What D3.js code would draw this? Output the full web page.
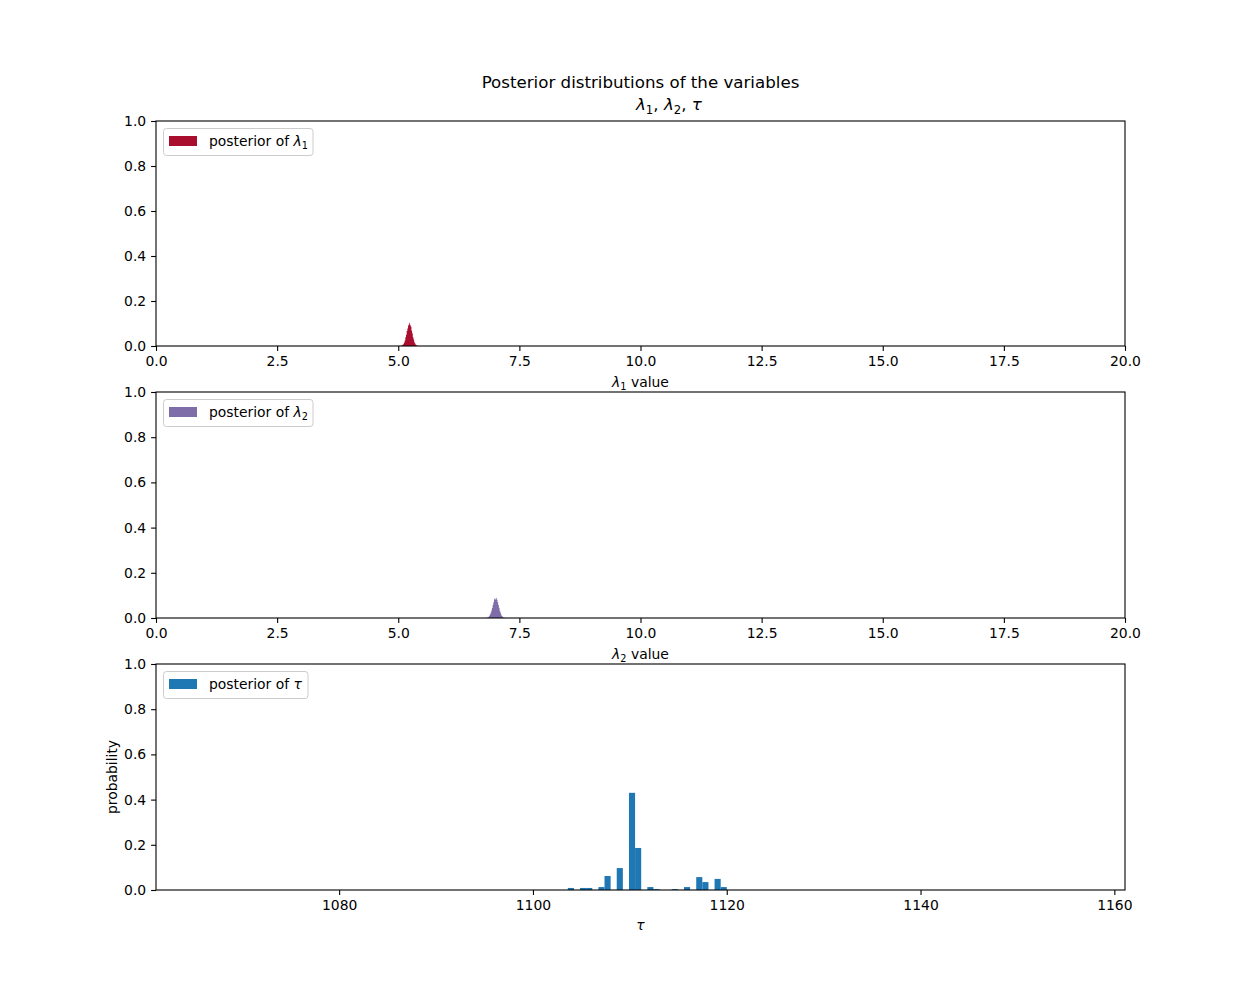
<!DOCTYPE html>
<html>
<head>
<meta charset="utf-8">
<script src="https://cdn.jsdelivr.net/npm/d3@7"></script>
<style>
  body { margin: 0; background: #fff; }
  svg { font-family: "DejaVu Sans", sans-serif; }
</style>
</head>
<body>
<svg id="chart" width="1250" height="1000"></svg>
<script>
// ---------------- data ----------------
const lambdaTicks = [0, 2.5, 5, 7.5, 10, 12.5, 15, 17.5, 20];
const yTicks = [0, 0.2, 0.4, 0.6, 0.8, 1.0];
const tauTicks = [1080, 1100, 1120, 1140, 1160];

const lambda1Range = [5.02, 5.44];   // 30 bins
const lambda1Probs = [0.0002,0.0004,0.0008,0.0016,0.0031,0.0052,0.0098,0.0158,0.0249,0.0385,
                      0.0502,0.0671,0.0779,0.0912,0.0951,0.1032,0.0918,0.0861,0.0683,0.0561,
                      0.0390,0.0286,0.0171,0.0112,0.0058,0.0034,0.0015,0.0008,0.0003,0.0001];

const lambda2Range = [6.79, 7.22];   // 30 bins
const lambda2Probs = [0.0002,0.0005,0.0009,0.0018,0.0034,0.0058,0.0101,0.0152,0.0228,0.0330,
                      0.0445,0.0580,0.0701,0.0826,0.0872,0.0805,0.0880,0.0812,0.0698,0.0571,
                      0.0452,0.0322,0.0231,0.0148,0.0091,0.0052,0.0027,0.0013,0.0006,0.0002];

const tauBinStart = 1103.6;
const tauBinWidth = 0.631;
const tauProbs = [0.009,0,0.009,0.009,0,0.013,0.062,0,0.097,0,
                  0.43,0.186,0,0.013,0.004,0,0,0.004,0,0.013,
                  0,0.057,0.035,0,0.049,0.013];
const tauDomain = [1061.1, 1161.1];

const colors = { l1: "#A60628", l2: "#7A68A6", tau: "#1f77b4" };

// ---------------- layout ----------------
const svg = d3.select("#chart");
const left = 156, right = 1125;
const panels = [
  { top: 121, bottom: 346 },
  { top: 392, bottom: 618 },
  { top: 664, bottom: 890 }
];
const FS = 13.9;

function mathLabel(g, parts, x, y, anchor, size) {
  const t = g.append("text").attr("x", x).attr("y", y).attr("text-anchor", anchor)
    .attr("font-size", size).attr("fill", "#000");
  let shifted = false;
  parts.forEach(p => {
    const ts = t.append("tspan").text(p.t);
    if (p.it) ts.attr("font-style", "italic");
    if (p.sub) {
      ts.attr("font-size", size * 0.7).attr("dy", size * 0.22);
      shifted = true;
    } else if (shifted) {
      ts.attr("dy", -size * 0.22);
      shifted = false;
    }
  });
  return t;
}

function drawFrame(g, p, x, y, ticks, fmt) {
  const xa = d3.axisBottom(x).tickValues(ticks).tickFormat(fmt).tickSizeOuter(0).tickSize(4.9).tickPadding(4.9);
  const ya = d3.axisLeft(y).tickValues(yTicks).tickFormat(d3.format(".1f")).tickSizeOuter(0).tickSize(4.9).tickPadding(4.9);
  const gx = g.append("g").attr("transform", `translate(0,${p.bottom})`).call(xa);
  const gy = g.append("g").attr("transform", `translate(${left},0)`).call(ya);
  [gx, gy].forEach(a => {
    a.select(".domain").remove();
    a.selectAll("line").attr("stroke", "#000").attr("stroke-width", 1.1);
    a.selectAll("text").attr("font-size", FS).attr("fill", "#000").attr("font-family", "DejaVu Sans");
  });
  g.append("rect").attr("x", left).attr("y", p.top).attr("width", right - left).attr("height", p.bottom - p.top)
    .attr("fill", "none").attr("stroke", "#000").attr("stroke-width", 1.1);
}

function legend(g, p, color, opacity, parts, w) {
  const lx = 163.5, ly = p.top + 7.5;
  g.append("rect").attr("x", lx).attr("y", ly).attr("width", w).attr("height", 27).attr("rx", 3)
    .attr("fill", "#fff").attr("fill-opacity", 0.8).attr("stroke", "#ccc").attr("stroke-width", 1);
  g.append("rect").attr("x", 169).attr("y", ly + 7.5).attr("width", 28).attr("height", 10)
    .attr("fill", color).attr("fill-opacity", opacity);
  mathLabel(g, parts, 209, ly + 17, "start", FS);
}

function stepHist(g, p, x, y, range, probs, color) {
  const n = probs.length;
  const w = (range[1] - range[0]) / n;
  const pts = probs.map((v, i) => ({ x: range[0] + i * w, v }));
  pts.push({ x: range[1], v: 0 });
  const area = d3.area().x(d => x(d.x)).y0(y(0)).y1(d => y(d.v)).curve(d3.curveStepAfter);
  g.append("path").attr("d", area(pts)).attr("fill", color).attr("fill-opacity", 0.97).attr("stroke", "none");
}

// ---------------- panel 1 & 2 (lambda) ----------------
const lambdaPanels = [
  { p: panels[0], range: lambda1Range, probs: lambda1Probs, color: colors.l1, s: "1" },
  { p: panels[1], range: lambda2Range, probs: lambda2Probs, color: colors.l2, s: "2" }
];
lambdaPanels.forEach(d => {
  const g = svg.append("g");
  const x = d3.scaleLinear().domain([0, 20]).range([left, right]);
  const y = d3.scaleLinear().domain([0, 1]).range([d.p.bottom, d.p.top]);
  stepHist(g, d.p, x, y, d.range, d.probs, d.color);
  drawFrame(g, d.p, x, y, lambdaTicks, d3.format(".1f"));
  legend(g, d.p, d.color, 0.97, [{ t: "posterior of " }, { t: "λ", it: true }, { t: d.s, sub: true }], 149.5);
  mathLabel(g, [{ t: "λ", it: true }, { t: d.s, sub: true }, { t: " value" }], 640.5, d.p.bottom + 41, "middle", FS);
});

// ---------------- panel 3 (tau) ----------------
{
  const p = panels[2];
  const g = svg.append("g");
  const x = d3.scaleLinear().domain(tauDomain).range([left, right]);
  const y = d3.scaleLinear().domain([0, 1]).range([p.bottom, p.top]);
  g.selectAll("rect.bar").data(tauProbs.map((v, i) => ({ x0: tauBinStart + i * tauBinWidth, v })))
    .enter().filter(d => d.v > 0).append("rect")
    .attr("x", d => x(d.x0)).attr("width", d => x(d.x0 + tauBinWidth) - x(d.x0))
    .attr("y", d => y(d.v)).attr("height", d => y(0) - y(d.v))
    .attr("fill", colors.tau);
  drawFrame(g, p, x, y, tauTicks, d3.format("d"));
  legend(g, p, colors.tau, 1, [{ t: "posterior of " }, { t: "τ", it: true }], 144.5);
  mathLabel(g, [{ t: "τ", it: true }], 640.5, p.bottom + 40, "middle", FS);
  g.append("text").attr("transform", `translate(117,${(p.top + p.bottom) / 2}) rotate(-90)`)
    .attr("text-anchor", "middle").attr("font-size", FS).attr("fill", "#000").text("probability");
}

// ---------------- title ----------------
svg.append("text").attr("x", 640.5).attr("y", 88).attr("text-anchor", "middle")
  .attr("font-size", 16.67).attr("fill", "#000").text("Posterior distributions of the variables");
mathLabel(svg, [{ t: "λ", it: true }, { t: "1", sub: true }, { t: ", " }, { t: "λ", it: true }, { t: "2", sub: true },
  { t: ", " }, { t: "τ", it: true }], 636, 110, "start", 16.67);
</script>
</body>
</html>
